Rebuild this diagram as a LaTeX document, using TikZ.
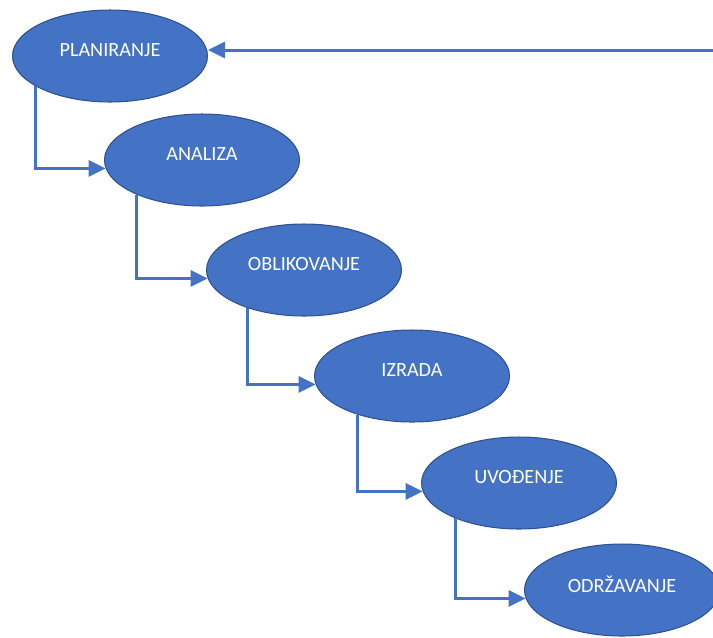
\documentclass[tikz,border=0pt]{standalone}
\usepackage{fontspec}
\setmainfont{Carlito}
\usetikzlibrary{shapes.geometric,arrows.meta}
\definecolor{phasefill}{HTML}{4472C4}
\definecolor{phaseline}{HTML}{2F528F}
\begin{document}
\begin{tikzpicture}[x=0.02cm,y=-0.02cm]
\tikzset{phase/.style={ellipse,fill=phasefill,draw=phaseline,line width=0.6pt,
  minimum width=3.9cm,minimum height=1.84cm,inner sep=0pt,text=white,
  font=\fontsize{11.5}{13}\selectfont,text depth=2.4mm},
  flow/.style={draw=phasefill,line width=1.7pt,
  -{Triangle[length=3.4mm,width=3.2mm]}}}
\useasboundingbox (0,0) rectangle (713,637);
\node[phase] (plan) at (110,56) {PLANIRANJE};
\node[phase] (anal) at (202,160) {ANALIZA};
\node[phase] (oblik) at (304,270) {OBLIKOVANJE};
\node[phase] (izrada) at (412,376) {IZRADA};
\node[phase] (uvod) at (519,483) {UVOĐENJE};
\node[phase] (odrz) at (622,590) {ODRŽAVANJE};
\coordinate (back) at (713,50);
\draw[flow] (back) -- (back -| plan.east);
\draw[flow] (plan.202) |- (anal.185);
\draw[flow] (anal.208) |- (oblik.185);
\draw[flow] (oblik.214) |- (izrada.185);
\draw[flow] (izrada.215) |- (uvod.185);
\draw[flow] (uvod.209) |- (odrz.185);
\end{tikzpicture}
\end{document}
